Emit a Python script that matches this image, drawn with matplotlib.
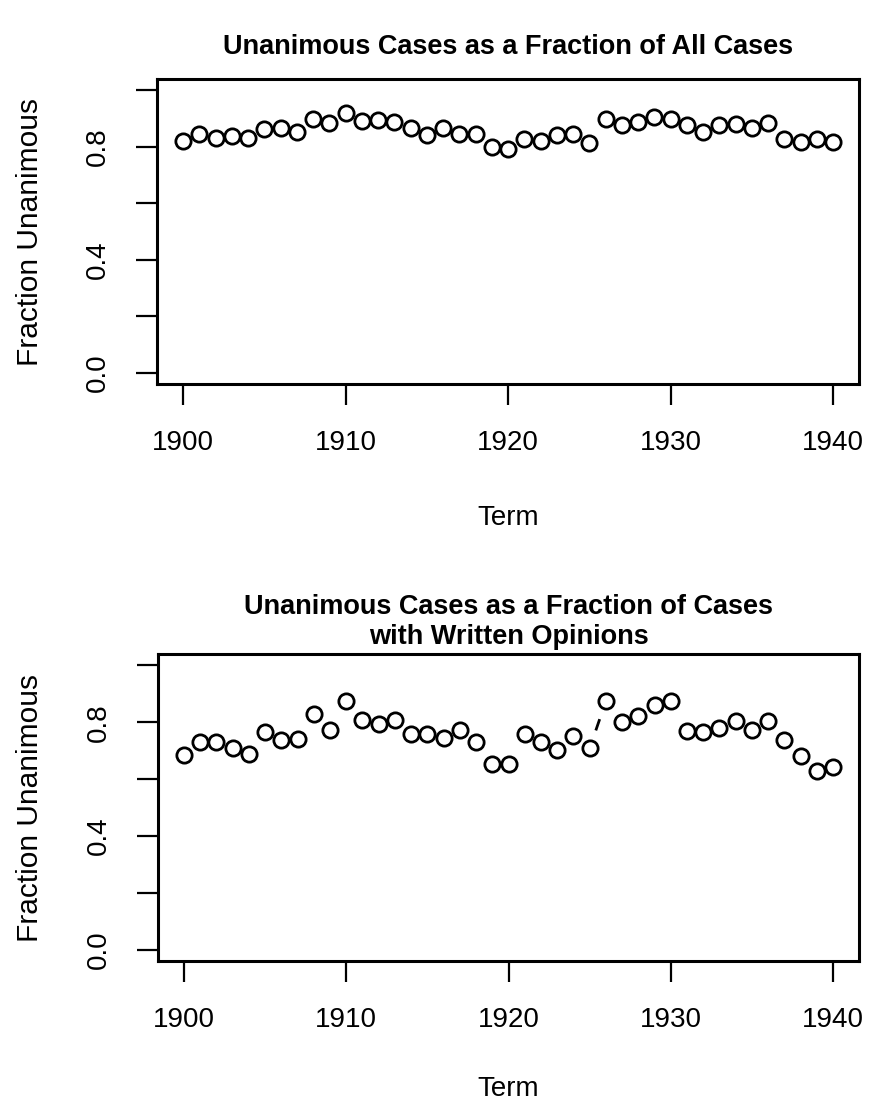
import matplotlib
matplotlib.use("Agg")
import matplotlib.pyplot as plt
import numpy as np

years = list(range(1900, 1941))
frac_all = [0.821, 0.845, 0.832, 0.838, 0.830, 0.863, 0.865, 0.853, 0.897, 0.883,
            0.921, 0.892, 0.894, 0.888, 0.867, 0.842, 0.867, 0.847, 0.845, 0.799,
            0.791, 0.826, 0.820, 0.842, 0.847, 0.812, 0.897, 0.877, 0.888, 0.906,
            0.900, 0.877, 0.853, 0.877, 0.879, 0.867, 0.885, 0.826, 0.818, 0.826,
            0.818]
frac_written = [0.684, 0.729, 0.729, 0.711, 0.688, 0.764, 0.739, 0.740, 0.828, 0.774,
                0.874, 0.807, 0.792, 0.807, 0.757, 0.760, 0.743, 0.772, 0.729, 0.652,
                0.652, 0.758, 0.729, 0.702, 0.751, 0.708, 0.874, 0.801, 0.821, 0.860,
                0.874, 0.770, 0.766, 0.781, 0.805, 0.772, 0.805, 0.737, 0.681, 0.628,
                0.643]
titles = ["Unanimous Cases as a Fraction of All Cases",
          "Unanimous Cases as a Fraction of Cases\nwith Written Opinions"]
xlabel = "Term"
ylabel = "Fraction Unanimous"
xticks = [1900, 1910, 1920, 1930, 1940]
yticks = [0.0, 0.2, 0.4, 0.6, 0.8, 1.0]
yticklabels = ["0.0", "", "0.4", "", "0.8", ""]

W, H = 871, 1110
DPI = 100
plt.rcParams['font.family'] = ['Liberation Sans', 'DejaVu Sans']
fig = plt.figure(figsize=(W / DPI, H / DPI), dpi=DPI)

LBL = 20
YLBL = 21.5
TTL = 19.5

def px_axes(l, t, r, b):
    return fig.add_axes([l / W, 1 - b / H, (r - l) / W, (b - t) / H])

panels = [
    dict(box=(157, 79, 859, 384), data=frac_all, title=titles[0], xl=518),
    dict(box=(158, 654, 859, 961), data=frac_written, title=titles[1], xl=1089),
]

GAP = 19  # px gap around points for type="b" style lines

for p in panels:
    l, t, r, b = p["box"]
    ax = px_axes(l, t, r, b)
    ax.set_xlim(1898.4, 1941.6)
    ax.set_ylim(-0.04, 1.04)
    ax.plot(years, p["data"], linestyle="none", marker="o", markersize=11,
            markerfacecolor="none", markeredgecolor="black", markeredgewidth=2.0)
    # connecting segments with gaps (R type="b")
    fig.canvas.draw()
    disp = ax.transData.transform(np.column_stack([years, p["data"]]))
    inv = ax.transData.inverted()
    for i in range(len(years) - 1):
        p0, p1 = disp[i], disp[i + 1]
        d = p1 - p0
        L = np.hypot(*d)
        if L > 2 * GAP:
            u = d / L
            a = inv.transform(p0 + u * GAP)
            c = inv.transform(p1 - u * GAP)
            ax.plot([a[0], c[0]], [a[1], c[1]], color="black", lw=2.0,
                    solid_capstyle="butt")
    for s in ax.spines.values():
        s.set_linewidth(2.2)
    ax.set_xticks(xticks)
    ax.set_xticklabels([str(x) for x in xticks], fontsize=LBL)
    ax.set_yticks(yticks)
    ax.set_yticklabels(yticklabels, fontsize=LBL, rotation=90, va="center")
    ax.tick_params(axis="both", direction="out", length=15, width=1.6)
    ax.tick_params(axis="x", pad=18)
    ax.tick_params(axis="y", pad=18)
    cx = (l + r) / 2 / W
    fig.text(cx, 1 - (t - 32) / H, p["title"], fontsize=TTL, fontweight="bold",
             ha="center", va="center", linespacing=1.25)
    fig.text(cx, 1 - p["xl"] / H, xlabel, fontsize=LBL, ha="center", va="center")
    fig.text(30 / W, 1 - ((t + b) / 2) / H, ylabel, fontsize=YLBL, ha="center",
             va="center", rotation=90)

fig.savefig("out.png", dpi=DPI)
